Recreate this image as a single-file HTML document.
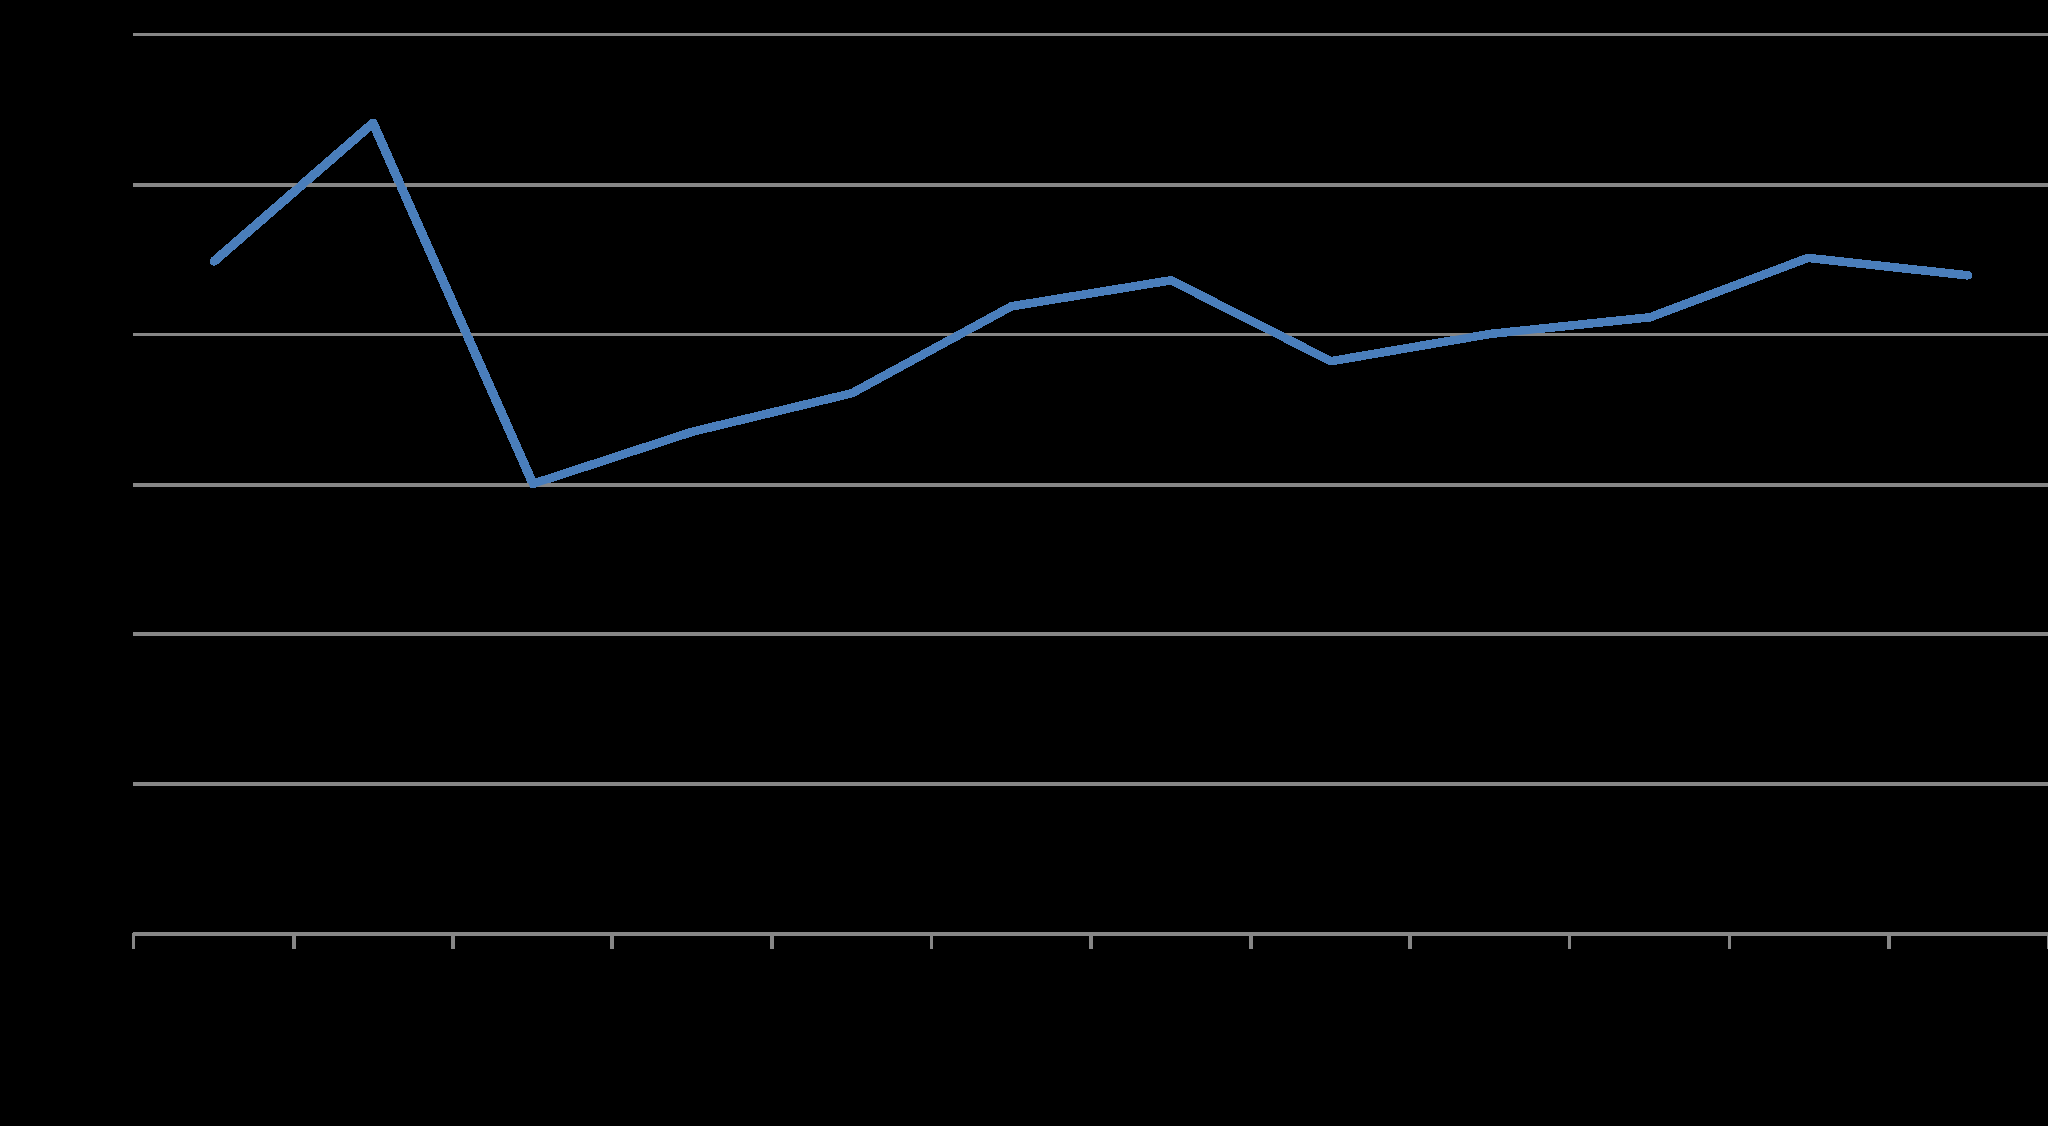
<!DOCTYPE html>
<html>
<head>
<meta charset="utf-8">
<title>Line chart</title>
<style>
  html, body { margin: 0; padding: 0; background: #000; width: 2048px; height: 1126px; overflow: hidden; font-family: "Liberation Sans", sans-serif; }
  svg { display: block; position: absolute; left: 0; top: 0; }
</style>
</head>
<body>
<svg width="2048" height="1126" viewBox="0 0 2048 1126">
  <defs>
    <!-- area occupied by the horizontal gridlines (used to clip the anti-aliased overlay) -->
    <clipPath id="gridclip">
      <rect x="133" y="33"  width="1915" height="3"/>
      <rect x="133" y="183" width="1915" height="4"/>
      <rect x="133" y="333" width="1915" height="3"/>
      <rect x="133" y="483" width="1915" height="4"/>
      <rect x="133" y="632" width="1915" height="4"/>
      <rect x="133" y="782" width="1915" height="4"/>
      <rect x="133" y="932" width="1915" height="4"/>
    </clipPath>
  </defs>

  <rect x="0" y="0" width="2048" height="1126" fill="#000000"/>

  <!-- data series: hard-edged underlay (visible on the black background) -->
  <g shape-rendering="crispEdges" fill="none" stroke="#4a7ebb" stroke-linecap="round" stroke-linejoin="round">
    <polyline stroke-width="9.2"
      points="214.3,261.1 373,123.1 533,483.8"/>
    <polyline stroke-width="8.6"
      points="533,483.8 692.5,431.7 852,393.2 1011.5,306.3 1171,280.3 1331,361.2 1490.4,333.9 1650,317.3 1808,257.9 1967.5,275.3"/>
    <line stroke-width="6.2" stroke-linecap="butt" x1="1961.54" y1="274.65" x2="1971.77" y2="275.77"/>
  </g>

  <!-- horizontal gridlines + category axis line -->
  <g shape-rendering="crispEdges" fill="#868686">
    <rect x="133" y="33"  width="1915" height="3"/>
    <rect x="133" y="183" width="1915" height="4"/>
    <rect x="133" y="333" width="1915" height="3"/>
    <rect x="133" y="483" width="1915" height="4"/>
    <rect x="133" y="632" width="1915" height="4"/>
    <rect x="133" y="782" width="1915" height="4"/>
    <rect x="133" y="932" width="1915" height="4"/>
  </g>

  <!-- category axis tick marks -->
  <g shape-rendering="crispEdges" fill="#868686">
    <rect x="132"  y="933" width="3" height="16"/>
    <rect x="292"  y="932" width="4" height="17"/>
    <rect x="451"  y="932" width="4" height="17"/>
    <rect x="610"  y="932" width="4" height="17"/>
    <rect x="770"  y="932" width="4" height="17"/>
    <rect x="930"  y="932" width="3" height="17"/>
    <rect x="1089" y="932" width="4" height="17"/>
    <rect x="1249" y="932" width="4" height="17"/>
    <rect x="1408" y="932" width="4" height="17"/>
    <rect x="1568" y="932" width="3" height="17"/>
    <rect x="1728" y="932" width="3" height="17"/>
    <rect x="1887" y="932" width="4" height="17"/>
    <rect x="2047" y="932" width="1" height="17"/>
  </g>

  <!-- data series: anti-aliased overlay where it crosses the gridlines -->
  <g clip-path="url(#gridclip)">
    <polyline fill="none" stroke="#4a7ebb" stroke-width="8" stroke-linecap="round" stroke-linejoin="round"
      points="214.3,261.1 373,123.1 533,483.8 692.5,431.7 852,393.2 1011.5,306.3 1171,280.3 1331,361.2 1490.4,333.9 1650,317.3 1808,257.9 1967.5,275.3"/>
  </g>
</svg>
</body>
</html>
